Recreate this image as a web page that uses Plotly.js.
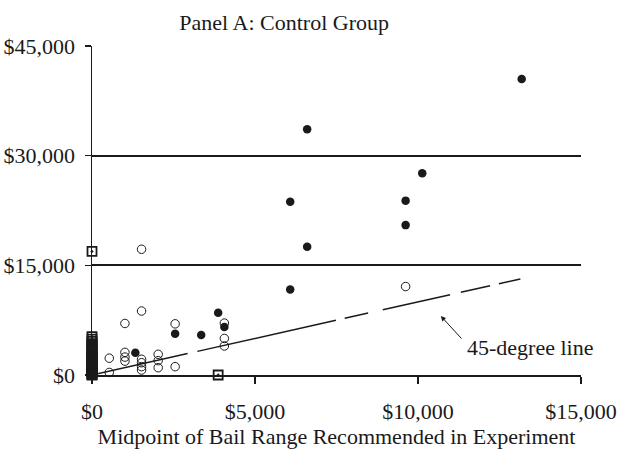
<!DOCTYPE html>
<html>
<head>
<meta charset="utf-8">
<script src="https://cdn.plot.ly/plotly-3.0.1.min.js"></script>
<style>
  html, body { margin: 0; padding: 0; background: #fff; }
  #chart { width: 626px; height: 469px; }
</style>
</head>
<body>
<div id="chart"></div>
<script>
// Recommended bail midpoint (x) vs. bail actually set (y), control group.

// Cases where bail was set above zero (filled circles)
const setX = [13180, 6600, 10130, 6080, 9620, 9620, 6600, 6080, 3870, 4060, 2550, 3350, 1330];
const setY = [40500, 33600, 27600, 23700, 23850, 20500, 17550, 11700, 8500, 6550, 5650, 5470, 3050];

// Cases shown with open circles
const openX = [9620, 1520, 1520, 1010, 2550, 4060, 4060, 4060,
               1010, 1010, 1010, 530, 1520, 1520, 1520, 1520,
               2030, 2030, 2030, 2550, 530];
const openY = [12100, 17200, 8750, 7050, 7000, 7100, 5000, 3970,
               3100, 2450, 1900, 2300, 2150, 1680, 1140, 680,
               2830, 1960, 1000, 1140, 350];

// Cases shown with boxed markers (mostly stacked at a $0 recommendation)
const boxX = [0, 3870, 0, 0, 0, 0, 0, 0, 0, 0, 0, 0, 0, 0, 0, 0, 0, 0, 0, 0,
              0, 0, 0, 0, 0, 0, 0, 0, 0];
const boxY = [16900, 0, 0, 50, 150, 300, 450, 600, 750, 900, 1050, 1250, 1450, 1650,
              1850, 2050, 2250, 2450, 2650, 2850, 3050, 3300, 3550, 3800, 4050,
              4300, 4600, 4900, 5250];

// Reference line where set bail equals the recommendation
const refX = [0, 13180];
const refY = [0, 13180];

const xTicks = [0, 5000, 10000, 15000];
const yTicks = [0, 15000, 30000, 45000];
const money = v => '$' + v.toLocaleString('en-US');

const serif = 'Liberation Serif, Times New Roman, serif';
const ink = '#1a1a1a';
const fs = 22;

const traces = [
  {
    x: refX, y: refY, type: 'scatter', mode: 'lines', hoverinfo: 'skip',
    line: { color: ink, width: 1.5, dash: '98px,10px,142px,9px,24px,15px,69px,11px,30px,9px,22px' }
  },
  {
    x: boxX, y: boxY, type: 'scatter', mode: 'markers', cliponaxis: false,
    marker: { symbol: 'square-open-dot', size: 9, color: ink, line: { width: 1.8, color: ink } }
  },
  {
    x: openX, y: openY, type: 'scatter', mode: 'markers', cliponaxis: false,
    marker: { symbol: 'circle-open', size: 8.5, color: ink, line: { width: 1, color: ink } }
  },
  {
    x: setX, y: setY, type: 'scatter', mode: 'markers', cliponaxis: false,
    marker: { symbol: 'circle', size: 8.5, color: ink, line: { width: 0 } }
  }
];

const layout = {
  width: 626, height: 469,
  margin: { l: 92, r: 45, t: 46, b: 94 },
  paper_bgcolor: '#fff', plot_bgcolor: '#fff',
  showlegend: false,
  font: { family: serif, size: fs, color: ink },
  title: {
    text: 'Panel A: Control Group',
    font: { family: serif, size: fs, color: ink },
    x: 0.393, xanchor: 'center', xref: 'paper',
    y: 0.953, yanchor: 'middle'
  },
  xaxis: {
    range: [0, 15000], tickmode: 'array', tickvals: xTicks, ticktext: xTicks.map(money),
    showgrid: false, zeroline: false,
    showline: true, linecolor: ink, linewidth: 1.8,
    ticks: 'outside', ticklen: 7, tickwidth: 1.5, tickcolor: ink,
    ticklabelstandoff: 9,
    tickfont: { family: serif, size: fs, color: ink },
    title: { text: 'Midpoint of Bail Range Recommended in Experiment',
             font: { family: serif, size: fs, color: ink }, standoff: 4 },
    fixedrange: true
  },
  yaxis: {
    range: [0, 45000], tickmode: 'array', tickvals: yTicks, ticktext: yTicks.map(money),
    showgrid: true, gridcolor: ink, gridwidth: 1.8,
    zeroline: false,
    showline: true, linecolor: ink, linewidth: 1.5,
    ticks: 'outside', ticklen: 6, tickwidth: 1.5, tickcolor: ink,
    ticklabelstandoff: 5,
    tickfont: { family: serif, size: fs, color: ink },
    fixedrange: true
  },
  annotations: [
    {
      x: 10700, y: 8070, xref: 'x', yref: 'y', text: '',
      showarrow: true, arrowhead: 2, arrowsize: 1, arrowwidth: 1, arrowcolor: ink,
      ax: 22, ay: 24
    },
    {
      x: 11440, y: 3700, xref: 'x', yref: 'y', text: '45-degree line',
      showarrow: false, xanchor: 'left', yanchor: 'middle',
      font: { family: serif, size: fs, color: ink }
    }
  ]
};

Plotly.newPlot('chart', traces, layout, { displayModeBar: false, staticPlot: true });
</script>
</body>
</html>
